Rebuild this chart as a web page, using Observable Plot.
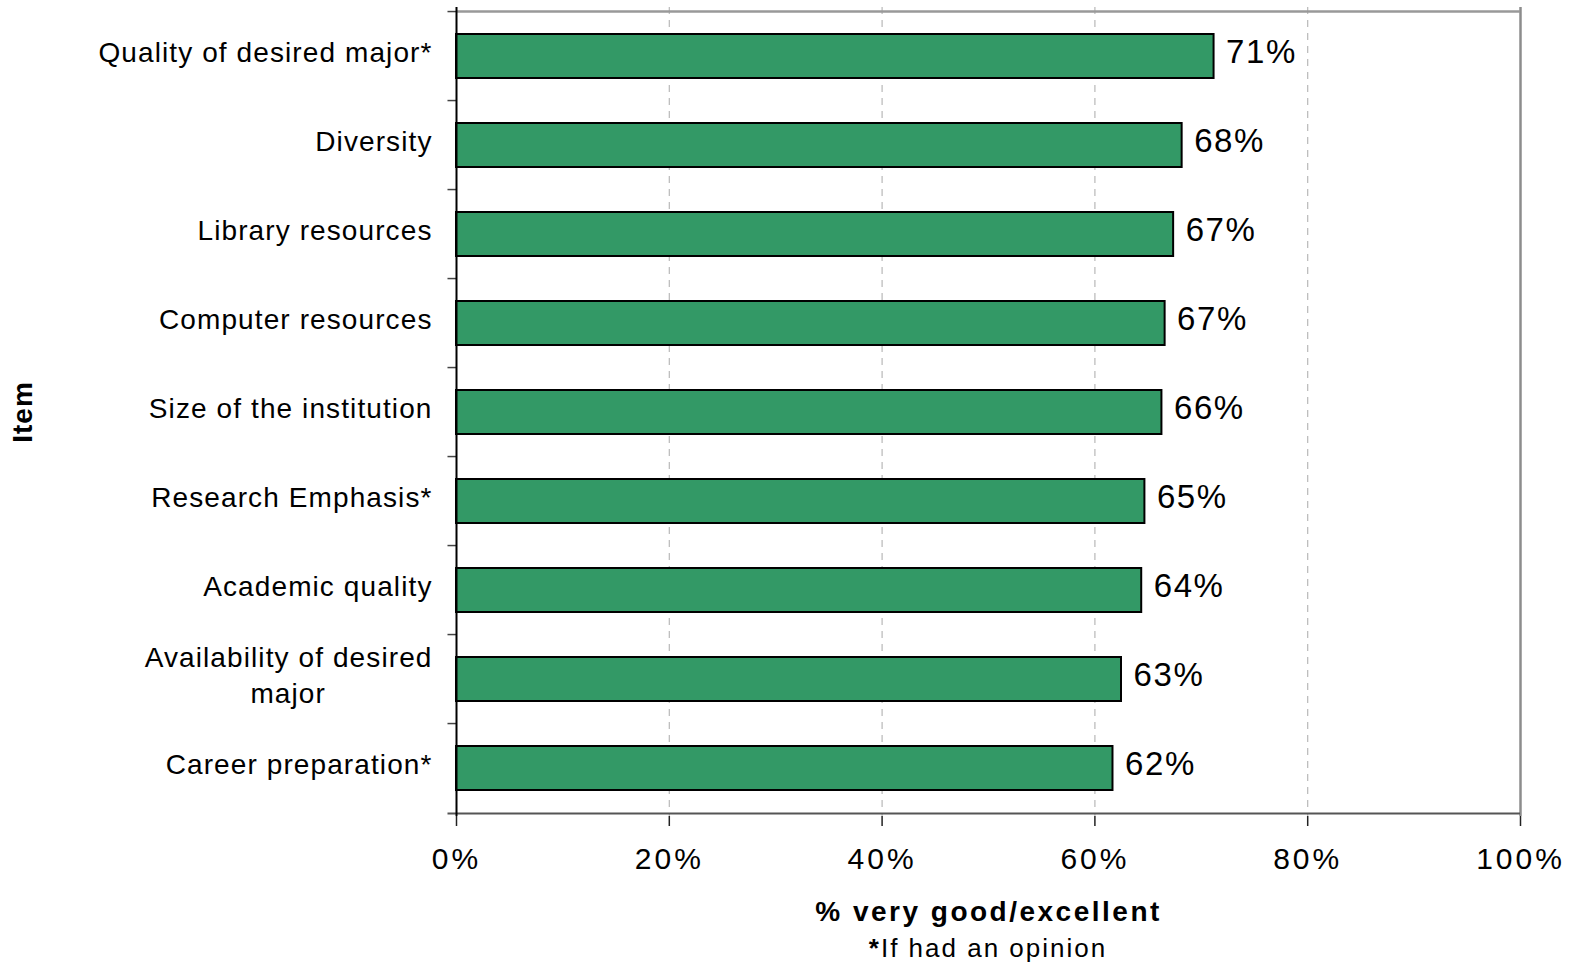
<!DOCTYPE html>
<html>
<head>
<meta charset="utf-8">
<script src="https://cdn.jsdelivr.net/npm/d3@7"></script>
<script src="https://cdn.jsdelivr.net/npm/@observablehq/plot@0.6"></script>
<style>
  body { margin: 0; background: white; font-family: "Liberation Sans", Arial, sans-serif; }
  .chart g[aria-label="y-axis tick label"] text { letter-spacing: 1.1px; }
  .chart g[aria-label="x-axis tick label"] text { letter-spacing: 3px; }
  .chart g[aria-label="x-axis label"] text { letter-spacing: 2.5px; }
  .chart g[aria-label="y-axis label"] text { letter-spacing: 1px; }
  .chart g[aria-label="text"] text { letter-spacing: 1.6px; }
  #caption { width: 1064px; margin-left: 456px; text-align: center; font-size: 26px; line-height: 36px; letter-spacing: 2px; color: black; }
</style>
</head>
<body>
<div id="chart"></div>
<div id="caption"><b>*</b>If had an opinion</div>
<script>
const items = ["Quality of desired major*", "Diversity", "Library resources", "Computer resources",
  "Size of the institution", "Research Emphasis*", "Academic quality", "Availability of desired major",
  "Career preparation*"];
const values = [71.2, 68.2, 67.4, 66.6, 66.3, 64.7, 64.4, 62.5, 61.7];
const valueLabels = ["71%", "68%", "67%", "67%", "66%", "65%", "64%", "63%", "62%"];
const itemLines = {"Availability of desired major": "Availability of desired\nmajor" + "\u00a0".repeat(12)};
const xTicks = [0, 20, 40, 60, 80, 100];
const gridTicks = [20, 40, 60, 80];

const data = items.map((item, i) => ({item, value: values[i], label: valueLabels[i]}));

const W = 1579, H = 930, mt = 7, mb = 114, ml = 456, mr = 59;
const step = (H - mt - mb) / items.length;

const chart = Plot.plot({
  width: W, height: H,
  marginLeft: ml, marginRight: mr, marginTop: mt, marginBottom: mb,
  className: "chart",
  style: {fontFamily: "'Liberation Sans', Arial, sans-serif", background: "white", color: "black", overflow: "visible"},
  x: {domain: [0, 100]},
  y: {domain: items, paddingInner: 0.51, paddingOuter: 0.255},
  marks: [
    Plot.ruleX(gridTicks, {stroke: "#b8b8b8", strokeWidth: 1.2, strokeDasharray: "7,6"}),
    Plot.ruleX([100], {stroke: "#8c8c8c", strokeWidth: 2.5}),
    Plot.ruleY([items[0]], {x1: 0, x2: 100, dy: -step / 2, stroke: "#999999", strokeWidth: 2.5}),
    Plot.barX(data, {x: "value", y: "item", fill: "#339966", stroke: "black", strokeWidth: 2}),
    Plot.text(data, {x: "value", y: "item", text: "label", textAnchor: "start", dx: 12, dy: -4, fontSize: 33}),
    // band boundary ticks on the y axis
    Plot.ruleY(items, {x1: -0.8, x2: 0, dy: -step / 2, stroke: "#444", strokeWidth: 1.5}),
    Plot.ruleY([items[items.length - 1]], {x1: -0.8, x2: 100, dy: step / 2, stroke: "#555", strokeWidth: 2}),
    Plot.ruleX([0], {stroke: "black", strokeWidth: 2}),
    Plot.axisX({ticks: xTicks, tickFormat: d => d + "%", tickSize: 10, tickPadding: 21, fontSize: 30,
      stroke: "#222", strokeWidth: 1.5, label: null}),
    Plot.axisX({ticks: [], label: "% very good/excellent", labelAnchor: "center", labelOffset: 104,
      labelArrow: "none", fontSize: 28, fontWeight: "bold"}),
    Plot.axisY({tickSize: 0, tickPadding: 24, fontSize: 28, lineHeight: 1.29, dy: -6,
      tickFormat: d => itemLines[d] || d, label: null}),
    Plot.axisY({ticks: [], label: "Item", labelAnchor: "center", labelOffset: 444,
      labelArrow: "none", fontSize: 28, fontWeight: "bold"})
  ]
});
document.getElementById("chart").appendChild(chart);
</script>
</body>
</html>
